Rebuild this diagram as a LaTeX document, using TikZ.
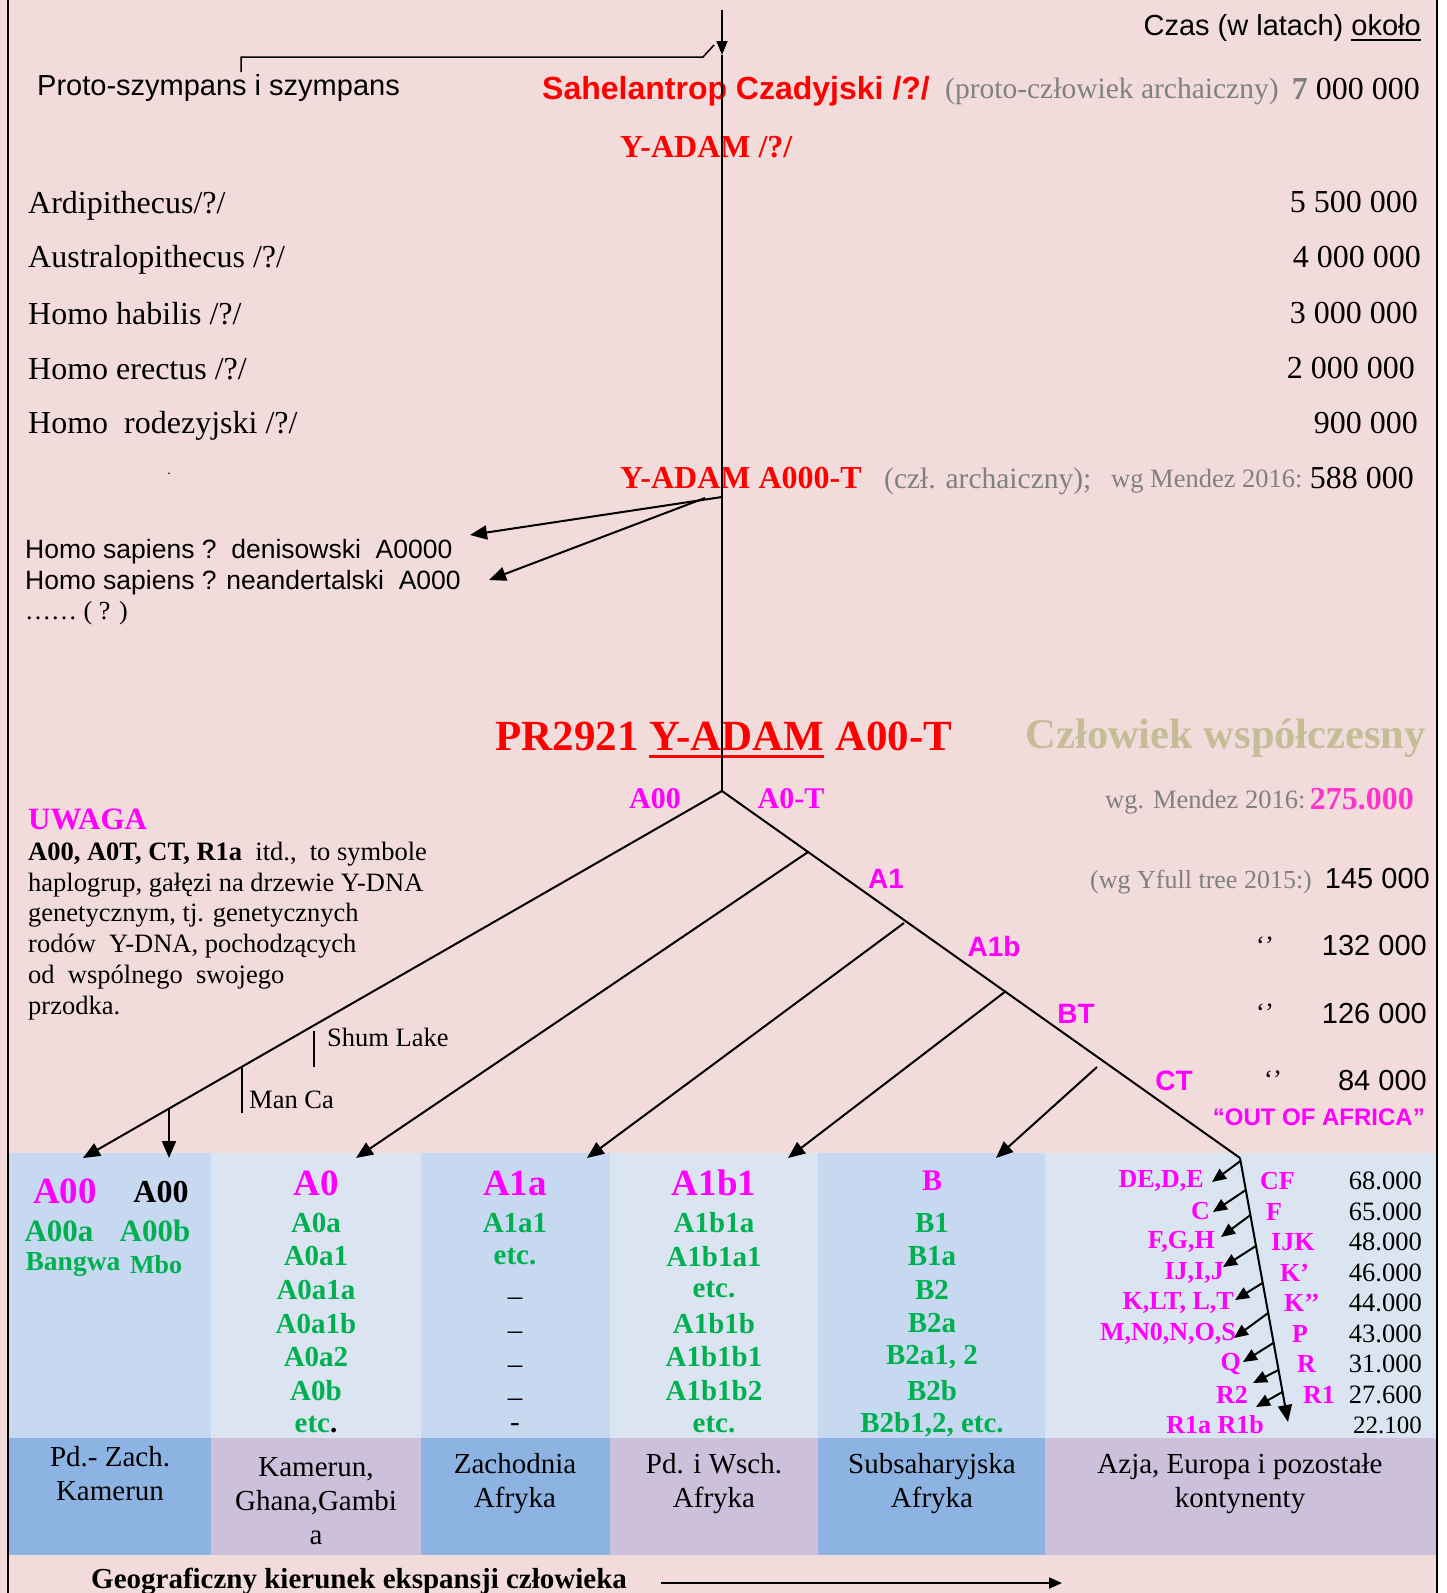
\documentclass[tikz,border=0pt]{standalone}
\usepackage{fontspec}
\setmainfont{Liberation Serif}
\setsansfont{Liberation Sans}
\usetikzlibrary{
  arrows.meta,
  calc
}
\definecolor{bgpink}{HTML}{F2DCDB}
\definecolor{cellA}{HTML}{C6D9F1}
\definecolor{cellB}{HTML}{DBE5F1}
\definecolor{regA}{HTML}{8DB3E2}
\definecolor{regB}{HTML}{CCC0DA}
\definecolor{hgreen}{HTML}{00B050}
\definecolor{hmag}{HTML}{FF00FF}
\definecolor{hred}{HTML}{FF0000}
\definecolor{hgrey}{HTML}{808080}
\definecolor{htan}{HTML}{C4BD97}
\definecolor{hpink}{HTML}{FF33CC}
\newcommand\fsz[2]{\fontsize{#1}{#2}\selectfont}
\newsavebox\ulbox
\newcommand\ulin[3]{\sbox\ulbox{#3}\rlap{\rule[#1]{\wd\ulbox}{#2}}\usebox\ulbox}

\begin{document}
\begin{tikzpicture}[x=1pt,y=-1pt,
  tx/.style={inner sep=0pt},
  ser/.style={tx,font=\fsz{32}{38}},
  greytxt/.style={tx,text=hgrey,font=\fsz{#1}{#1}},
  sanstxt/.style={tx,font=\sffamily\fsz{29}{34}},
  redb/.style={tx,text=hred,font=\bfseries\fsz{32}{38}},
  clade/.style={tx,text=hmag,font=\bfseries\fsz{30}{34}},
  cladesf/.style={tx,text=hmag,font=\sffamily\bfseries\fsz{28}{32}},
  hap/.style={tx,text=hgreen,font=\bfseries\fsz{29}{34}},
  haphead/.style={tx,text=hmag,font=\bfseries\fsz{37}{40}},
  subclade/.style={tx,text=hmag,font=\bfseries\fsz{26}{30}},
  age/.style={tx,font=\fsz{26.5}{30}},
  region/.style={tx,align=center,font=\fsz{29}{34}},
  dashtxt/.style={tx,font=\fsz{29}{34},text height=10pt,text depth=0pt},
  stem/.style={line width=1.6pt},
  branch/.style={line width=2pt},
  arr/.style={-{Triangle[length=17pt,width=14pt]}},
  sarr/.style={-{Triangle[length=14pt,width=12pt]}}
  ]
  \useasboundingbox (0,0) rectangle (1446,1593);
  \fill[white] (0,0) rectangle (1446,1593);
  \fill[bgpink] (0,0) rectangle (1437,1593);
  \foreach \xa/\xb/\ca/\cb in {8/211/cellA/regA,211/421/cellB/regB,421/610/cellA/regA,
    610/818/cellB/regB,818/1045/cellA/regA,1045/1437/cellB/regB}{
    \fill[\ca] (\xa,1153) rectangle (\xb,1438);
    \fill[\cb] (\xa,1438) rectangle (\xb,1555);
  }
  \draw[line width=2pt] (8,0) -- (8,1593) (1437,0) -- (1437,1593);

  \node[sanstxt,anchor=east] (czas) at (1421,28) {Czas (w latach) \ulin{-5pt}{2pt}{około}};
  \node[sanstxt,anchor=west] (proto) at (37,88) {Proto-szympans i szympans};
  \node[tx,anchor=west,text=hred,font=\sffamily\bfseries\fsz{32}{36}] (sahel) at (542,91) {Sahelantrop Czadyjski /?/};
  \node[greytxt=29.5,anchor=west] (protoarch) at (945,91) {(proto-człowiek archaiczny)};
  \node[ser,anchor=east] (n7) at (1420,89) {\textbf{\color{hgrey}7} 000 000};
  \node[redb,anchor=west] (yadam) at (620,147) {Y-ADAM /?/};

  \node[ser,anchor=west] (ardi) at (28,206) {Ardipithecus/?/};
  \node[ser,anchor=east] (n55) at (1418,202) {5 500 000};
  \node[ser,anchor=west] (austr) at (28,260) {Australopithecus /?/};
  \node[ser,anchor=east] (n40) at (1421,257) {4 000 000};
  \node[ser,anchor=west] (habilis) at (28,314) {Homo habilis /?/};
  \node[ser,anchor=east] (n30) at (1418,313) {3 000 000};
  \node[ser,anchor=west] (erectus) at (28,369) {Homo erectus /?/};
  \node[ser,anchor=east] (n20) at (1415,368) {2 000 000};
  \node[ser,anchor=west] (rodez) at (28,426) {Homo\ \ rodezyjski /?/};
  \node[ser,anchor=east] (n09) at (1418,423) {900 000};
  \node[tx,font=\fsz{14}{14}] (dot) at (169,474) {.};

  \node[redb,anchor=west] (yadam3) at (620,478) {Y-ADAM A000-T};
  \node[greytxt=29.5,anchor=west] (archz) at (884,481) {(czł. archaiczny);};
  \node[greytxt=26.5,anchor=west] (mend1) at (1111,481) {wg Mendez 2016:};
  \node[ser,anchor=east] (n588) at (1414,478) {588 000};

  \node[tx,anchor=west,font=\sffamily\fsz{26.5}{30}] (deniso) at (25,552) {Homo sapiens ?\ \ denisowski\ \ A0000};
  \node[tx,anchor=west,font=\sffamily\fsz{26.5}{30}] (neand) at (25,583) {Homo sapiens ? neandertalski\ \ A000};
  \node[tx,anchor=west,font=\fsz{26}{30}] (unknown) at (25,613) {…… ( ? )};

  \node[tx,anchor=west,text=hred,font=\bfseries\fsz{43}{48}] (yadam2) at (495,740) {PR2921 \ulin{-8pt}{3.5pt}{Y-ADAM} A00-T};
  \node[tx,anchor=east,text=htan,font=\bfseries\fsz{42.5}{48}] (modern) at (1426,738) {Człowiek współczesny};

  \node[clade] (l00) at (655,799) {A00};
  \node[clade] (l0t) at (791,799) {A0-T};
  \node[cladesf] (l1) at (886,879) {A1};
  \node[cladesf] (l1b) at (994,946) {A1b};
  \node[cladesf] (lbt) at (1076,1014) {BT};
  \node[cladesf] (lct) at (1174,1081) {CT};
  \node[tx,anchor=east,text=hmag,font=\sffamily\bfseries\fsz{24}{27}] (ooa) at (1425,1117) {“OUT OF AFRICA”};

  \node[greytxt=26.5,anchor=west] (mend2) at (1105,802) {wg. Mendez 2016:};
  \node[tx,anchor=east,text=hpink,font=\bfseries\fsz{32}{38}] (n275) at (1414,799) {275.000};
  \node[greytxt=26,anchor=west] (yfull) at (1090,882) {(wg Yfull tree 2015:)};
  \node[sanstxt,anchor=east] (n145) at (1430,879) {145 000};
  \node[age] (dit1) at (1265,946) {‘’};
  \node[sanstxt,anchor=east] (n132) at (1427,946) {132 000};
  \node[age] (dit2) at (1265,1013) {‘’};
  \node[sanstxt,anchor=east] (n126) at (1427,1014) {126 000};
  \node[age] (dit3) at (1273,1080) {‘’};
  \node[sanstxt,anchor=east] (n84) at (1427,1081) {84 000};

  \node[tx,anchor=west,text=hmag,font=\bfseries\fsz{31}{36}] (uwaga) at (28,819) {UWAGA};
  \node[tx,anchor=north west,align=left,font=\fsz{26.5}{30.7}] (note) at (28,842)
    {\textbf{A00,\ A0T, CT, R1a}\ \ itd.,\ \ to symbole\\haplogrup, gałęzi na drzewie Y-DNA\\
     genetycznym, tj. genetycznych\\rodów\ \ Y-DNA, pochodzących\\od\ \ wspólnego\ \ swojego\\przodka.};
  \node[age,anchor=west] (shum) at (327,1037) {Shum Lake};
  \node[age,anchor=west] (manca) at (249,1100) {Man Ca};

  \coordinate (top) at (722,10);
  \coordinate (y7) at (722,55);
  \coordinate (root) at (722,791);
  \draw[stem,-{Triangle[length=14pt,width=11pt]}] (top) -- (y7);
  \draw[stem] (y7) -- (root);
  \coordinate (pr-a) at (241,72);
  \coordinate (pr-b) at (241,57);
  \coordinate (pr-c) at (703,57);
  \coordinate (pr-d) at (714,45);
  \draw[line width=1.5pt] (pr-a) -- (pr-b) -- (pr-c) -- (pr-d);
  \coordinate (arch-a) at (722,497);
  \coordinate (arch-b) at (705,498);
  \coordinate (den-tip) at (470,535);
  \coordinate (nea-tip) at (489,580);
  \draw[branch,arr] (arch-a) -- (den-tip);
  \draw[branch,arr] (arch-b) -- (nea-tip);

  \coordinate (t00) at (83,1158);
  \coordinate (ct) at (1240,1158);
  \coordinate (r1end) at (1288,1422);
  \coordinate (a1) at (808,852);
  \coordinate (a1b) at (904,923);
  \coordinate (bt) at (1006,991);
  \coordinate (bfree) at (1097,1067);
  \coordinate (t0) at (356,1158);
  \coordinate (t1a) at (587,1158);
  \coordinate (t1b1) at (788,1158);
  \coordinate (tb) at (996,1158);
  \coordinate (m00b) at ($(root)!0.8654!(t00)$);
  \coordinate (t00b) at (m00b |- t00);
  \coordinate (mc-a) at ($(root)!0.7512!(t00)$);
  \coordinate (mc-b) at ($(mc-a)+(0,46)$);
  \coordinate (sl-a) at (314,1031);
  \coordinate (sl-b) at (314,1067);
  \draw[branch] (root) -- (ct);
  \draw[branch,arr] (ct) -- (r1end);
  \draw[branch,arr] (root) -- (t00);
  \draw[branch,arr] (m00b) -- (t00b);
  \draw[line width=1.4pt] (mc-a) -- (mc-b);
  \draw[line width=1.4pt] (sl-a) -- (sl-b);
  \draw[branch,arr] (a1) -- (t0);
  \draw[branch,arr] (a1b) -- (t1a);
  \draw[branch,arr] (bt) -- (t1b1);
  \draw[branch,arr] (bfree) -- (tb);

  \node[haphead] (h00) at (65,1191) {A00};
  \node[tx,font=\bfseries\fsz{32}{36}] (h00k) at (161,1192) {A00};
  \node[tx,text=hgreen,font=\bfseries\fsz{31}{34}] (h00a) at (59,1231) {A00a};
  \node[tx,text=hgreen,font=\bfseries\fsz{31}{34}] (h00b) at (155,1231) {A00b};
  \node[tx,text=hgreen,font=\bfseries\fsz{27.5}{30}] (bangwa) at (73,1265) {Bangwa};
  \node[tx,text=hgreen,font=\bfseries\fsz{26}{30}] (mbo) at (156,1265) {Mbo};

  \node[haphead] (h0) at (316,1183) {A0};
  \foreach \t [count=\i] in {A0a,A0a1,A0a1a,A0a1b,A0a2,A0b,etc{\color{black}.}}
    \node[hap] (a0-\i) at (316,{1189+33.6*\i}) {\t};
  \node[haphead] (h1a) at (515,1183) {A1a};
  \node[hap] (a1a-1) at (515,1222.6) {A1a1};
  \node[hap] (a1a-2) at (515,1256.2) {etc.};
  \foreach \i in {3,...,6}
    \node[dashtxt] (a1a-\i) at (515,{1200+33.6*\i}) {–};
  \node[dashtxt] (a1a-7) at (515,1426) {-};
  \node[haphead] (h1b1) at (714,1183) {A1b1};
  \foreach \t [count=\i] in {A1b1a,A1b1a1,etc.,A1b1b,A1b1b1,A1b1b2,etc.}
    \node[hap] (a1b1-\i) at (714,{1189+33.6*\i}) {\t};
  \node[tx,text=hmag,font=\bfseries\fsz{30}{34}] (hb) at (932,1181) {B};
  \foreach \t [count=\i] in {B1,B1a,B2,B2a,{B2a1, 2},B2b,{B2b1,2, etc.}}
    \node[hap] (b-\i) at (932,{1189+33.6*\i}) {\t};

  \foreach \t/\xx [count=\i] in {{DE,D,E}/1204,C/1210,{F,G,H}/1215,{IJ,I,J}/1224,{K,LT, L,T}/1234,
    {M,N0,N,O,S}/1236,Q/1241,R2/1248,R1a R1b/1264}
    \node[subclade,anchor=east] (sl-\i) at (\xx,{1150.5+30.5*\i}) {\t};
  \foreach \t/\xx [count=\i] in {CF/1260,F/1266,IJK/1271,K’/1280,K’’/1284,P/1292,R/1297,R1/1303}
    \node[subclade,anchor=west] (sr-\i) at (\xx,{1150.5+30.5*\i}) {\t};
  \foreach \t [count=\i] in {68.000,65.000,48.000,46.000,44.000,43.000,31.000,27.600}
    \node[age,anchor=east] (age-\i) at (1422,{1150.5+30.5*\i}) {\t};
  \node[tx,anchor=east,font=\fsz{25}{30}] (age-9) at (1422,1425) {22.100};
  \foreach \tt/\ex/\ey [count=\i] in {0.011/1212/1182,0.121/1213/1212,0.216/1221/1237,
    0.333/1223/1267,0.473/1235/1300,0.587/1234/1338,0.70/1243/1362,0.803/1253/1383,0.886/1256/1407}{
    \coordinate (ds-\i) at ($(ct)!\tt!(r1end)$);
    \coordinate (de-\i) at (\ex,\ey);
    \draw[branch,sarr] (ds-\i) -- (de-\i);
  }

  \node[region] (reg1) at (110,1474) {Pd.- Zach.\\Kamerun};
  \node[region] (reg2) at (316,1501) {Kamerun,\\Ghana,Gambi\\a};
  \node[region] (reg3) at (515,1484) {Zachodnia\\Afryka};
  \node[region] (reg4) at (714,1484) {Pd. i Wsch.\\Afryka};
  \node[region] (reg5) at (932,1484) {Subsaharyjska\\Afryka};
  \node[region] (reg6) at (1240,1484) {Azja, Europa i pozostałe\\kontynenty};

  \node[tx,anchor=west,font=\bfseries\fsz{29}{34}] (geo) at (91,1581) {Geograficzny kierunek ekspansji człowieka};
  \coordinate (geo-end) at (1062,1583);
  \draw[branch,-{Triangle[length=13pt,width=11pt]}] ([xshift=34pt]geo.east |- geo-end) -- (geo-end);
\end{tikzpicture}
\end{document}
